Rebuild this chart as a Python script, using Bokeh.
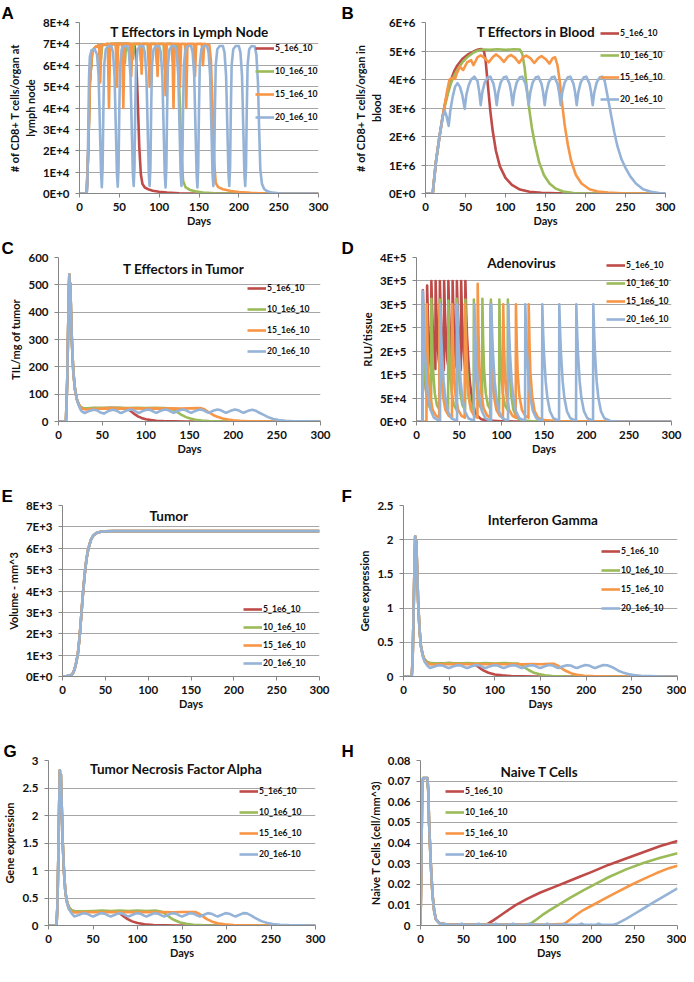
from bokeh.plotting import figure
from bokeh.models import Range1d, FixedTicker, Legend, LegendItem, Label
from bokeh.layouts import column, row
from bokeh.embed import file_html
from bokeh.resources import INLINE

# ---------------- shared axis data ----------------
X_TICKS = [0, 50, 100, 150, 200, 250, 300]
X_LABELS = ["0", "50", "100", "150", "200", "250", "300"]
NAMES = ["5_1e6_10", "10_1e6_10", "15_1e6_10", "20_1e6_10"]
NAMES_GH = ["5_1e6_10", "10_1e6_10", "15_1e6_10", "20_1e6-10"]

# ---------------- A: T effectors in lymph node ----------------
A_TICKS = [0, 10000, 20000, 30000, 40000, 50000, 60000, 70000, 80000]
A_LABELS = ["0E+0", "1E+4", "2E+4", "3E+4", "4E+4", "5E+4", "6E+4", "7E+4", "8E+4"]
A_RED_X = [0, 9, 11, 13, 16, 20, 30, 45, 60, 69, 71, 73, 75, 77, 79, 82, 86, 92, 100, 110, 125, 145, 300]
A_RED_Y = [0, 0, 20000, 52000, 66500, 68500, 69500, 70000, 70000, 69500, 64000, 45000, 22000, 9000, 4500,
           2800, 2000, 1300, 800, 450, 150, 0, 0]
A_GREEN_X = [0, 9, 11, 13, 16, 20, 25.5, 27, 28.5, 35.5, 37, 38.5, 45.5, 47, 48.5, 55.5, 57, 58.5,
             65.5, 67, 68.5, 75.5, 77, 78.5, 85.5, 87, 88.5, 95.5, 97, 98.5, 105.5, 107, 108.5,
             115.5, 117, 118.5, 122, 124, 126, 128, 130, 133, 138, 145, 155, 170, 190, 300]
A_GREEN_Y = [0, 0, 20000, 52000, 66500, 68500, 69500, 63000, 69500, 70000, 62000, 70000, 70000, 64000, 70000,
             70000, 61000, 70000, 70000, 63000, 70000, 70000, 62000, 70000, 70000, 60000, 70000,
             70000, 61000, 70000, 70000, 58000, 70000, 70000, 62000, 70000,
             69000, 62000, 42000, 18000, 6000, 3000, 1800, 1000, 500, 150, 0, 0]
A_ORANGE_X = [0, 9, 11, 13, 16, 20, 24.5, 26, 27.5, 35.5, 37, 38.5, 45.5, 47, 48.5, 53.5, 55, 56.5,
              63.5, 65, 66.5, 76.5, 78, 79.5, 86.5, 88, 89.5, 96.5, 98, 99.5, 106.5, 108, 109.5,
              116.5, 118, 119.5, 124.5, 126, 127.5, 132.5, 134, 135.5, 143.5, 145, 146.5, 153.5, 155, 156.5,
              163, 165, 167, 169, 171, 174, 180, 190, 200, 215, 235, 300]
A_ORANGE_Y = [0, 0, 20000, 52000, 66500, 68500, 69500, 52000, 69500, 70000, 40000, 70000, 70000, 50000, 70000,
              70000, 40000, 70000, 70000, 55000, 70000, 70000, 56000, 70000, 70000, 50000, 70000,
              70000, 55000, 70000, 70000, 46000, 70000, 70000, 40000, 70000, 70000, 50000, 70000,
              70000, 40000, 70000, 70000, 55000, 70000, 70000, 60000, 70000,
              69500, 62000, 40000, 15000, 5000, 3000, 2000, 1200, 700, 300, 0, 0]
A_BLUE_X = [0, 9, 10, 11, 12, 13, 15, 19, 22, 24, 25.5, 27, 28,
            29, 30, 31, 33, 36, 40, 42, 44, 45.5, 47, 48,
            49, 50, 51, 53, 56, 60, 62, 64, 65.5, 67, 68,
            69, 70, 71, 73, 76, 80, 82, 84, 85.5, 87, 88,
            89, 90, 91, 93, 96, 100, 102, 104, 105.5, 107, 108,
            109, 110, 111, 113, 116, 120, 122, 124, 125.5, 127, 128,
            129, 130, 131, 133, 136, 140, 142, 144, 145.5, 147, 148,
            149, 150, 151, 153, 156, 160, 162, 164, 165.5, 167, 168,
            169, 170, 171, 173, 176, 180, 182, 184, 185.5, 187, 188,
            189, 190, 191, 193, 196, 200, 202, 204, 205.5, 207, 208,
            209, 210, 211, 213, 216, 220, 222, 224, 225.5, 227, 229, 232, 236, 242, 250, 265, 300]
A_BLUE_Y = [0, 0, 5000, 30000, 55000, 64000, 67000, 67500, 65000, 55000, 33000, 10000, 3000,
            12000, 40000, 60000, 67500, 69000, 69000, 66000, 55000, 32000, 9000, 3200,
            12000, 40000, 60000, 67500, 69000, 69000, 66000, 55000, 32000, 9000, 3500,
            12000, 40000, 60000, 67500, 69000, 69000, 66000, 55000, 32000, 9000, 3500,
            12000, 40000, 60000, 67500, 69000, 69000, 66000, 55000, 32000, 9000, 2800,
            12000, 40000, 60000, 67500, 69000, 69000, 66000, 55000, 32000, 9000, 3500,
            12000, 40000, 60000, 67500, 69000, 69000, 66000, 55000, 32000, 9000, 2800,
            12000, 40000, 60000, 67500, 69000, 69000, 66000, 55000, 32000, 9000, 3500,
            12000, 40000, 60000, 67500, 69000, 69000, 66000, 55000, 32000, 9000, 3500,
            12000, 40000, 60000, 67500, 69000, 69000, 66000, 55000, 32000, 9000, 3500,
            12000, 40000, 60000, 67500, 69000, 68800, 65000, 52000, 30000, 11000, 4500, 2000, 1000, 400, 150, 0, 0]

# ---------------- B: T effectors in blood ----------------
B_TICKS = [0, 1e6, 2e6, 3e6, 4e6, 5e6, 6e6]
B_LABELS = ["0E+0", "1E+6", "2E+6", "3E+6", "4E+6", "5E+6", "6E+6"]
B_RED_X = [0, 9, 13, 17.5, 21.5, 24, 28, 32, 36, 40, 46, 53, 60, 66, 70, 73, 75, 77, 79, 81,
           84, 88, 93, 100, 108, 118, 130, 145, 165, 190, 300]
B_RED_Y = [0, 0, 1.1e6, 2.0e6, 2.7e6, 3.1e6, 3.6e6, 4.0e6, 4.3e6, 4.5e6, 4.72e6, 4.88e6, 4.98e6, 5.05e6,
           5.07e6, 5.0e6, 4.7e6, 4.1e6, 3.5e6, 2.9e6, 2.2e6, 1.5e6, 0.95e6, 0.55e6, 0.3e6, 0.14e6,
           0.06e6, 0.025e6, 0.008e6, 0, 0]
B_GREEN_X = [0, 9, 13, 17.5, 21.5, 24, 28, 32, 36, 40, 46, 53, 60, 66, 72, 80, 90, 100, 110, 118,
             121, 124, 127, 130, 133, 137, 142, 148, 155, 163, 172, 185, 200, 300]
B_GREEN_Y = [0, 0, 1.1e6, 2.0e6, 2.7e6, 3.05e6, 3.5e6, 3.88e6, 4.15e6, 4.35e6, 4.6e6, 4.8e6, 4.95e6,
             5.02e6, 5.05e6, 5.04e6, 5.06e6, 5.04e6, 5.06e6, 5.05e6, 4.9e6, 4.4e6, 3.6e6, 2.9e6, 2.3e6,
             1.7e6, 1.1e6, 0.65e6, 0.35e6, 0.17e6, 0.07e6, 0.02e6, 0, 0]
B_ORANGE_X = [0, 9, 13, 17.5, 21.5, 24, 27, 30, 33, 37, 39, 43, 47, 52, 57, 60, 65, 69, 74, 79,
              84, 88, 93, 98, 103, 107, 112, 117, 122, 126, 131, 136, 141, 145, 150, 155, 159, 162,
              165, 168, 171, 174, 178, 182, 188, 195, 205, 215, 228, 245, 265, 300]
B_ORANGE_Y = [0, 0, 1.1e6, 2.0e6, 2.7e6, 3.1e6, 3.6e6, 4.0e6, 4.05e6, 4.02e6, 4.2e6, 4.45e6, 4.33e6,
              4.6e6, 4.68e6, 4.5e6, 4.78e6, 4.85e6, 4.75e6, 4.6e6, 4.78e6, 4.88e6, 4.78e6, 4.62e6,
              4.8e6, 4.86e6, 4.76e6, 4.58e6, 4.78e6, 4.84e6, 4.75e6, 4.58e6, 4.75e6, 4.82e6, 4.72e6,
              4.56e6, 4.75e6, 4.78e6, 4.5e6, 3.9e6, 3.1e6, 2.4e6, 1.7e6, 1.15e6, 0.65e6, 0.35e6,
              0.15e6, 0.07e6, 0.03e6, 0.01e6, 0, 0]
B_BLUE_X = [0, 9, 13, 17.5, 21.5, 24, 26, 29, 31, 34, 37, 40, 43, 46, 49, 51, 54, 57, 61, 65, 67, 69,
            71, 74, 78, 81, 85, 87, 89,
            91, 94, 98, 101, 105, 107, 109,
            111, 114, 118, 121, 125, 127, 129,
            131, 134, 138, 141, 145, 147, 149,
            151, 154, 158, 161, 165, 167, 169,
            171, 174, 178, 181, 185, 187, 189,
            191, 194, 198, 201, 205, 207, 209,
            211, 214, 218, 221, 224, 227, 230, 233, 236, 240, 245, 250, 256, 263, 272, 282, 292, 300]
B_BLUE_Y = [0, 0, 1.1e6, 2.0e6, 2.7e6, 2.9e6, 2.75e6, 2.37e6, 2.9e6, 3.4e6, 3.75e6, 3.87e6, 3.75e6,
            3.45e6, 2.97e6, 3.45e6, 3.8e6, 4.0e6, 4.1e6, 3.95e6, 3.6e6, 3.1e6,
            3.55e6, 3.9e6, 4.08e6, 4.1e6, 3.85e6, 3.55e6, 3.1e6,
            3.55e6, 3.9e6, 4.08e6, 4.1e6, 3.85e6, 3.55e6, 3.1e6,
            3.55e6, 3.9e6, 4.08e6, 4.1e6, 3.85e6, 3.55e6, 3.1e6,
            3.55e6, 3.9e6, 4.08e6, 4.1e6, 3.85e6, 3.55e6, 3.1e6,
            3.55e6, 3.9e6, 4.08e6, 4.1e6, 3.85e6, 3.55e6, 3.1e6,
            3.55e6, 3.9e6, 4.08e6, 4.1e6, 3.85e6, 3.55e6, 3.1e6,
            3.55e6, 3.9e6, 4.08e6, 4.1e6, 3.85e6, 3.55e6, 3.1e6,
            3.55e6, 3.9e6, 4.08e6, 4.1e6, 3.95e6, 3.5e6, 3.05e6, 2.6e6, 2.15e6, 1.65e6, 1.2e6,
            0.9e6, 0.6e6, 0.35e6, 0.15e6, 0.06e6, 0.02e6, 0.01e6]

# ---------------- C: T effectors in tumor ----------------
C_TICKS = [0, 100, 200, 300, 400, 500, 600]
C_LABELS = ["0", "100", "200", "300", "400", "500", "600"]
C_RED_X = [0, 8.5, 10, 11, 12, 12.4, 12.9, 13.5, 14.5, 15.5, 17, 19, 21, 23, 25, 28, 32, 40, 50, 60,
           70, 75, 78, 81, 84, 88, 91, 95, 100, 106, 112, 120, 130, 145, 160, 300]
C_RED_Y = [0, 0, 150, 330, 500, 538, 455, 505, 380, 280, 180, 115, 82, 64, 54, 48, 47, 49, 48, 50,
           49, 48, 46, 42, 35, 25, 19, 13, 8, 5, 3, 1.5, 0.6, 0.1, 0, 0]
C_GREEN_X = [0, 8.5, 10, 11, 12, 12.4, 12.9, 13.5, 14.5, 15.5, 17, 19, 21, 23, 25, 28, 32, 40, 50, 60,
             70, 80, 90, 100, 110, 120, 125, 129, 133, 137, 141, 146, 151, 157, 164, 172, 182, 195, 300]
C_GREEN_Y = [0, 0, 150, 330, 500, 538, 455, 505, 380, 280, 180, 115, 82, 64, 54, 49, 48, 49, 50, 49,
             50, 49, 50, 49, 50, 49, 48, 46, 40, 32, 24, 16, 11, 6.5, 3.5, 1.5, 0.5, 0, 0]
C_ORANGE_X = [0, 8.5, 10, 11, 12, 12.4, 12.9, 13.5, 14.5, 15.5, 17, 19, 21, 23, 25, 28, 32, 40, 50, 60,
              70, 80, 90, 100, 110, 120, 130, 140, 150, 160, 164, 167, 172, 177, 182, 188, 194, 200,
              208, 218, 230, 245, 300]
C_ORANGE_Y = [0, 0, 150, 330, 500, 538, 455, 505, 380, 280, 180, 115, 82, 62, 52, 46, 44, 46, 47, 48,
              47, 48, 48, 47, 48, 47, 48, 47, 48, 49, 48, 45, 34, 24, 17, 11, 7, 4.5, 2.5, 1, 0.3, 0, 0]
C_BLUE_X = [0, 8.5, 10, 11, 12, 12.4, 12.9, 13.5, 14.5, 15.5, 17, 19, 21, 23, 25, 27, 30, 35, 40, 44,
            48, 52, 57, 62, 66, 70, 72, 77, 82, 86, 90, 92, 97, 102, 106, 110, 112, 117, 122, 126,
            130, 132, 137, 142, 146, 150, 152, 157, 162, 166, 170, 172, 177, 182, 186, 190, 192, 197,
            202, 206, 210, 212, 217, 222, 226, 230, 235, 240, 246, 252, 260, 270, 285, 300]
C_BLUE_Y = [0, 0, 150, 330, 500, 538, 455, 505, 380, 280, 180, 115, 80, 60, 45, 36, 31, 38, 43, 41,
            33, 29, 38, 43, 40, 33, 31, 39, 44, 41, 34, 31, 39, 44, 41, 34, 32, 39, 44, 41,
            34, 32, 39, 44, 41, 34, 32, 39, 44, 41, 34, 32, 39, 44, 41, 34, 32, 39,
            44, 41, 34, 32, 39, 43, 39, 32, 24, 16, 9, 5, 2.5, 1, 0.3, 0]

# ---------------- D: adenovirus ----------------
D_TICKS = [0, 50000, 100000, 150000, 200000, 250000, 300000, 350000]
D_LABELS = ["0E+0", "5E+4", "1E+5", "2E+5", "2E+5", "3E+5", "3E+5", "4E+5"]
D_RED_X = [0, 7.2, 7.5, 8.5, 9.5, 11, 12.2,
           12.5, 13.5, 14.5, 16, 17.2, 17.5, 18.5, 19.5, 21, 22.2, 22.5, 23.5, 24.5, 26, 27.2,
           27.5, 28.5, 29.5, 31, 32.2, 32.5, 33.5, 34.5, 36, 37.2, 37.5, 38.5, 39.5, 41, 42.2,
           42.5, 43.5, 44.5, 46, 47.2, 47.5, 48.5, 49.5, 51, 52.2, 52.5, 53.5, 54.5, 56, 57.2,
           57.5, 58.5, 59.5, 61, 63, 66, 70, 76, 85, 100, 115, 300]
D_RED_Y = [0, 0, 2.8e5, 1.7e5, 1.1e5, 0.7e5, 0.55e5,
           2.9e5, 2.2e5, 1.7e5, 1.3e5, 1.1e5, 3.0e5, 2.3e5, 1.8e5, 1.35e5, 1.12e5,
           3.0e5, 2.3e5, 1.8e5, 1.35e5, 1.15e5, 3.0e5, 2.3e5, 1.8e5, 1.35e5, 1.1e5,
           3.0e5, 2.3e5, 1.8e5, 1.35e5, 1.2e5, 3.0e5, 2.3e5, 1.8e5, 1.35e5, 1.1e5,
           3.0e5, 2.3e5, 1.8e5, 1.35e5, 1.15e5, 3.0e5, 2.3e5, 1.8e5, 1.35e5, 1.1e5,
           3.0e5, 2.3e5, 1.8e5, 1.35e5, 1.15e5,
           3.0e5, 2.3e5, 1.8e5, 1.3e5, 0.8e5, 0.4e5, 0.15e5, 0.05e5, 0.02e5, 0.005e5, 0, 0]
D_GREEN_X = [0, 7.2,
             7.5, 8.5, 9.5, 11.5, 14, 17.2, 17.5, 18.5, 19.5, 21.5, 24, 27.2,
             27.5, 28.5, 29.5, 31.5, 34, 37.2, 37.5, 38.5, 39.5, 41.5, 44, 47.2,
             47.5, 48.5, 49.5, 51.5, 54, 57.2, 57.5, 58.5, 59.5, 61.5, 64, 67.2,
             67.5, 68.5, 69.5, 71.5, 74, 77.2, 77.5, 78.5, 79.5, 81.5, 84, 87.2,
             87.5, 88.5, 89.5, 91.5, 94, 97.2, 97.5, 98.5, 99.5, 101.5, 104, 107.2,
             107.5, 108.5, 109.5, 111.5, 114, 118, 125, 135, 150, 300]
D_GREEN_Y = [0, 0,
             2.6e5, 1.65e5, 1.1e5, 0.6e5, 0.35e5, 0.25e5, 2.62e5, 1.65e5, 1.1e5, 0.6e5, 0.35e5, 0.25e5,
             2.6e5, 1.65e5, 1.1e5, 0.6e5, 0.35e5, 0.25e5, 2.58e5, 1.65e5, 1.1e5, 0.6e5, 0.35e5, 0.25e5,
             2.62e5, 1.65e5, 1.1e5, 0.6e5, 0.35e5, 0.25e5, 2.6e5, 1.65e5, 1.1e5, 0.6e5, 0.35e5, 0.25e5,
             2.6e5, 1.65e5, 1.1e5, 0.6e5, 0.35e5, 0.25e5, 2.62e5, 1.65e5, 1.1e5, 0.6e5, 0.35e5, 0.25e5,
             2.6e5, 1.65e5, 1.1e5, 0.6e5, 0.35e5, 0.25e5, 2.6e5, 1.65e5, 1.1e5, 0.6e5, 0.35e5, 0.25e5,
             2.6e5, 1.65e5, 1.1e5, 0.55e5, 0.25e5, 0.08e5, 0.02e5, 0.008e5, 0, 0]
D_ORANGE_X = [0, 11.7,
              12, 13, 14, 16, 19, 23, 26.7, 27, 28, 29, 31, 34, 38, 41.7,
              42, 43, 44, 46, 49, 53, 56.7, 57, 58, 59, 61, 64, 68, 71.7,
              72, 73, 74, 76, 79, 83, 86.7, 87, 88, 89, 91, 94, 98, 101.7,
              102, 103, 104, 106, 109, 113, 116.7, 117, 118, 119, 121, 124, 128, 131.7,
              132, 133, 134, 136, 139, 143, 150, 165, 190, 215, 300]
D_ORANGE_Y = [0, 0,
              2.5e5, 1.6e5, 1.05e5, 0.55e5, 0.25e5, 0.12e5, 0.08e5, 2.5e5, 1.6e5, 1.05e5, 0.55e5, 0.25e5, 0.12e5, 0.08e5,
              2.5e5, 1.6e5, 1.05e5, 0.55e5, 0.25e5, 0.12e5, 0.08e5, 2.5e5, 1.6e5, 1.05e5, 0.55e5, 0.25e5, 0.12e5, 0.08e5,
              2.94e5, 1.85e5, 1.2e5, 0.62e5, 0.28e5, 0.13e5, 0.08e5, 2.5e5, 1.6e5, 1.05e5, 0.55e5, 0.25e5, 0.12e5, 0.08e5,
              2.5e5, 1.6e5, 1.05e5, 0.55e5, 0.25e5, 0.12e5, 0.08e5, 2.5e5, 1.6e5, 1.05e5, 0.55e5, 0.25e5, 0.12e5, 0.08e5,
              2.5e5, 1.6e5, 1.05e5, 0.55e5, 0.22e5, 0.08e5, 0.03e5, 0.01e5, 0.005e5, 0.002e5, 0]
D_BLUE_X = [0, 7.2,
            7.5, 8.5, 9.5, 11.5, 13.5, 16.5, 20.5, 27.7,
            28, 29, 30, 32, 34, 37, 41, 47.7,
            48, 49, 50, 52, 54, 57, 61, 67.7,
            68, 69, 70, 72, 74, 77, 81, 87.7,
            88, 89, 90, 92, 94, 97, 101, 107.7,
            108, 109, 110, 112, 114, 117, 121, 127.7,
            128, 129, 130, 132, 134, 137, 141, 147.7,
            148, 149, 150, 152, 154, 157, 161, 167.7,
            168, 169, 170, 172, 174, 177, 181, 187.7,
            188, 189, 190, 192, 194, 197, 201, 207.7,
            208, 209, 210, 212, 214, 217, 221, 228, 240, 300]
D_BLUE_Y = [0, 0,
            2.78e5, 2.1e5, 1.6e5, 0.95e5, 0.55e5, 0.25e5, 0.08e5, 0.01e5,
            2.5e5, 1.9e5, 1.45e5, 0.85e5, 0.5e5, 0.22e5, 0.07e5, 0.01e5,
            2.5e5, 1.9e5, 1.45e5, 0.85e5, 0.5e5, 0.22e5, 0.07e5, 0.01e5,
            2.5e5, 1.9e5, 1.45e5, 0.85e5, 0.5e5, 0.22e5, 0.07e5, 0.01e5,
            2.5e5, 1.9e5, 1.45e5, 0.85e5, 0.5e5, 0.22e5, 0.07e5, 0.01e5,
            2.5e5, 1.9e5, 1.45e5, 0.85e5, 0.5e5, 0.22e5, 0.07e5, 0.01e5,
            2.5e5, 1.9e5, 1.45e5, 0.85e5, 0.5e5, 0.22e5, 0.07e5, 0.01e5,
            2.5e5, 1.9e5, 1.45e5, 0.85e5, 0.5e5, 0.22e5, 0.07e5, 0.01e5,
            2.5e5, 1.9e5, 1.45e5, 0.85e5, 0.5e5, 0.22e5, 0.07e5, 0.01e5,
            2.5e5, 1.9e5, 1.45e5, 0.85e5, 0.5e5, 0.22e5, 0.07e5, 0.01e5,
            2.5e5, 1.9e5, 1.45e5, 0.85e5, 0.5e5, 0.22e5, 0.07e5, 0.01e5, 0, 0]

# ---------------- E: tumor volume (identical for all four regimens) ----------------
E_TICKS = [0, 1000, 2000, 3000, 4000, 5000, 6000, 7000, 8000]
E_LABELS = ["0E+0", "1E+3", "2E+3", "3E+3", "4E+3", "5E+3", "6E+3", "7E+3", "8E+3"]
E_DAYS = [0, 5, 10, 12, 14, 16, 18, 20, 22, 24, 26, 28, 30, 33, 36, 40, 45, 50, 60, 300]
E_VOLUME = [15, 25, 60, 140, 330, 650, 1080, 1850, 2900, 3950, 4800, 5500, 5950, 6380, 6600, 6720,
            6770, 6790, 6800, 6800]

# ---------------- F: interferon gamma ----------------
F_TICKS = [0, 0.5, 1, 1.5, 2, 2.5]
F_LABELS = ["0", "0.5", "1", "1.5", "2", "2.5"]
F_RED_X = [0, 9, 10, 11, 12, 12.8, 13.4, 14, 15, 16, 17.5, 19, 21, 23, 26, 30, 40, 50, 60, 70,
           76, 80, 84, 88, 93, 100, 108, 118, 130, 145, 300]
F_RED_Y = [0, 0, 0.25, 0.9, 1.6, 2.05, 1.75, 1.98, 1.55, 1.1, 0.7, 0.45, 0.32, 0.25, 0.21, 0.19, 0.19,
           0.195, 0.19, 0.19, 0.185, 0.16, 0.12, 0.085, 0.055, 0.03, 0.016, 0.007, 0.002, 0, 0]
F_GREEN_X = [0, 9, 10, 11, 12, 12.8, 13.4, 14, 15, 16, 17.5, 19, 21, 23, 26, 30, 40, 50, 60, 70,
             80, 90, 100, 110, 120, 125, 129, 133, 137, 142, 148, 155, 163, 175, 190, 300]
F_GREEN_Y = [0, 0, 0.25, 0.9, 1.6, 2.05, 1.75, 1.98, 1.55, 1.1, 0.7, 0.45, 0.32, 0.25, 0.21, 0.195,
             0.19, 0.195, 0.19, 0.195, 0.19, 0.195, 0.19, 0.195, 0.19, 0.19, 0.17, 0.13, 0.095, 0.06,
             0.035, 0.018, 0.008, 0.002, 0, 0]
F_ORANGE_X = [0, 9, 10, 11, 12, 12.8, 13.4, 14, 15, 16, 17.5, 19, 21, 23, 26, 30, 40, 50, 60, 70,
              80, 90, 100, 110, 120, 130, 140, 150, 160, 165, 169, 173, 178, 184, 190, 198, 208, 222, 240, 300]
F_ORANGE_Y = [0, 0, 0.25, 0.9, 1.6, 2.05, 1.75, 1.98, 1.55, 1.1, 0.7, 0.45, 0.31, 0.23, 0.19, 0.175,
              0.178, 0.18, 0.182, 0.18, 0.182, 0.18, 0.182, 0.18, 0.182, 0.18, 0.182, 0.18, 0.185,
              0.185, 0.16, 0.12, 0.08, 0.045, 0.025, 0.012, 0.005, 0.001, 0, 0]
F_BLUE_X = [0, 9, 10, 11, 12, 12.8, 13.4, 14, 15, 16, 17.5, 19, 21, 23, 26,
            29, 34, 39, 43, 48, 50, 54, 59, 63, 68, 70, 74, 79, 83, 88, 90, 94, 99, 103, 108,
            110, 114, 119, 123, 128, 130, 134, 139, 143, 148, 150, 154, 159, 163, 168,
            170, 174, 179, 183, 188, 190, 194, 199, 203, 208, 210, 214, 219, 223, 228,
            232, 236, 240, 246, 252, 260, 270, 285, 300]
F_BLUE_Y = [0, 0, 0.25, 0.9, 1.6, 2.05, 1.75, 1.98, 1.55, 1.1, 0.7, 0.45, 0.3, 0.22, 0.16,
            0.125, 0.145, 0.165, 0.16, 0.13, 0.125, 0.145, 0.165, 0.16, 0.13, 0.125, 0.145, 0.168, 0.162, 0.13,
            0.125, 0.145, 0.165, 0.16, 0.13, 0.125, 0.145, 0.165, 0.16, 0.13, 0.125, 0.145, 0.165, 0.16, 0.13,
            0.125, 0.145, 0.168, 0.162, 0.13, 0.125, 0.145, 0.165, 0.16, 0.13, 0.125, 0.145, 0.168, 0.162, 0.13,
            0.125, 0.145, 0.168, 0.165, 0.14,
            0.11, 0.08, 0.06, 0.035, 0.02, 0.01, 0.005, 0.001, 0]

# ---------------- G: tumor necrosis factor alpha ----------------
G_TICKS = [0, 0.5, 1, 1.5, 2, 2.5, 3]
G_LABELS = ["0", "0.5", "1", "1.5", "2", "2.5", "3"]
G_RED_X = [0, 9, 10, 11, 12, 12.8, 13.3, 13.9, 15, 16, 17.5, 19, 21, 23, 26, 30, 40, 50, 60, 70,
           77, 81, 85, 89, 94, 100, 108, 118, 130, 145, 300]
G_RED_Y = [0, 0, 0.35, 1.2, 2.2, 2.82, 2.3, 2.75, 2.1, 1.5, 0.95, 0.6, 0.42, 0.33, 0.27, 0.25, 0.25,
           0.26, 0.26, 0.26, 0.25, 0.21, 0.16, 0.115, 0.075, 0.045, 0.022, 0.009, 0.003, 0, 0]
G_GREEN_X = [0, 9, 10, 11, 12, 12.8, 13.3, 13.9, 15, 16, 17.5, 19, 21, 23, 26, 30, 40, 50, 60, 70,
             80, 90, 100, 110, 120, 125, 129, 133, 137, 142, 148, 155, 163, 175, 190, 300]
G_GREEN_Y = [0, 0, 0.35, 1.2, 2.2, 2.82, 2.3, 2.75, 2.1, 1.5, 0.95, 0.6, 0.42, 0.33, 0.28, 0.26, 0.26,
             0.265, 0.27, 0.265, 0.27, 0.265, 0.27, 0.265, 0.27, 0.26, 0.235, 0.19, 0.14, 0.095, 0.055,
             0.03, 0.013, 0.004, 0, 0]
G_ORANGE_X = [0, 9, 10, 11, 12, 12.8, 13.3, 13.9, 15, 16, 17.5, 19, 21, 23, 26, 30, 40, 50, 60, 70,
              80, 90, 100, 110, 120, 130, 140, 150, 160, 165, 169, 173, 178, 184, 190, 198, 208, 222, 240, 300]
G_ORANGE_Y = [0, 0, 0.35, 1.2, 2.2, 2.82, 2.3, 2.75, 2.1, 1.5, 0.95, 0.6, 0.4, 0.3, 0.25, 0.235, 0.24,
              0.245, 0.24, 0.245, 0.24, 0.245, 0.24, 0.245, 0.24, 0.245, 0.24, 0.245, 0.245, 0.245,
              0.215, 0.17, 0.115, 0.07, 0.04, 0.02, 0.008, 0.002, 0, 0]
G_BLUE_X = [0, 9, 10, 11, 12, 12.8, 13.3, 13.9, 15, 16, 17.5, 19, 21, 23, 26,
            29, 34, 39, 43, 48, 50, 54, 59, 63, 68, 70, 74, 79, 83, 88, 90, 94, 99, 103, 108,
            110, 114, 119, 123, 128, 130, 134, 139, 143, 148, 150, 154, 159, 163, 168,
            170, 174, 179, 183, 188, 190, 194, 199, 203, 208, 210, 214, 219, 223, 228,
            232, 236, 240, 246, 252, 260, 270, 285, 300]
G_BLUE_Y = [0, 0, 0.35, 1.2, 2.2, 2.82, 2.3, 2.75, 2.1, 1.5, 0.95, 0.6, 0.4, 0.3, 0.22,
            0.165, 0.19, 0.225, 0.215, 0.175, 0.165, 0.19, 0.225, 0.215, 0.175, 0.165, 0.19, 0.225, 0.215, 0.175,
            0.165, 0.19, 0.225, 0.215, 0.175, 0.165, 0.19, 0.225, 0.215, 0.175, 0.165, 0.19, 0.225, 0.215, 0.175,
            0.165, 0.19, 0.225, 0.215, 0.175, 0.165, 0.19, 0.225, 0.215, 0.175, 0.165, 0.19, 0.225, 0.215, 0.175,
            0.165, 0.19, 0.225, 0.22, 0.18,
            0.14, 0.105, 0.075, 0.045, 0.027, 0.014, 0.007, 0.002, 0]

# ---------------- H: naive T cells ----------------
H_TICKS = [0, 0.01, 0.02, 0.03, 0.04, 0.05, 0.06, 0.07, 0.08]
H_LABELS = ["0", "0.01", "0.02", "0.03", "0.04", "0.05", "0.06", "0.07", "0.08"]
H_RED_X = [0, 1, 2, 3, 8, 9, 10, 12, 14, 16, 18, 22, 30, 50, 70, 78, 85, 92, 100, 111,
           125, 140, 155, 170, 185, 200, 220, 240, 260, 280, 300]
H_RED_Y = [0, 0.03, 0.068, 0.0715, 0.0715, 0.066, 0.05, 0.03, 0.015, 0.007, 0.003, 0.0012, 0.0005,
           0.0005, 0.0005, 0.0007, 0.0025, 0.0045, 0.0068, 0.0099, 0.013, 0.016, 0.0185, 0.021,
           0.0235, 0.026, 0.0295, 0.0325, 0.0355, 0.0385, 0.041]
H_GREEN_X = [0, 1, 2, 3, 8, 9, 10, 12, 14, 16, 18, 22, 30, 60, 90, 120, 128, 135, 142, 150,
             162, 175, 190, 205, 220, 240, 260, 280, 300]
H_GREEN_Y = [0, 0.03, 0.068, 0.0715, 0.0715, 0.066, 0.05, 0.03, 0.015, 0.007, 0.003, 0.0012, 0.0005,
             0.0005, 0.0005, 0.0005, 0.0008, 0.0028, 0.005, 0.0072, 0.0102, 0.0135, 0.017, 0.0203,
             0.0235, 0.0272, 0.0303, 0.0328, 0.035]
H_ORANGE_X = [0, 1, 2, 3, 8, 9, 10, 12, 14, 16, 18, 22, 30, 60, 90, 120, 150, 168, 175, 182,
              190, 203, 215, 230, 245, 260, 275, 290, 300]
H_ORANGE_Y = [0, 0.03, 0.068, 0.0715, 0.0715, 0.066, 0.05, 0.03, 0.015, 0.007, 0.003, 0.0012, 0.0005,
              0.0005, 0.0005, 0.0005, 0.0005, 0.0008, 0.003, 0.0052, 0.0075, 0.0103, 0.013, 0.0163,
              0.0195, 0.0225, 0.0253, 0.0278, 0.029]
H_BLUE_X = [0, 1, 2, 3, 8, 9, 10, 12, 14, 16, 18, 22, 26, 28, 31,
            45, 48, 51, 65, 68, 71, 85, 88, 91, 105, 108, 111, 125, 128, 131,
            145, 148, 151, 165, 168, 171, 185, 188, 191, 205, 208, 211,
            225, 230, 240, 250, 260, 270, 280, 290, 300]
H_BLUE_Y = [0, 0.03, 0.068, 0.0715, 0.0715, 0.066, 0.05, 0.03, 0.015, 0.007, 0.003, 0.0012, 0.0005,
            0.0009, 0.0004, 0.0004, 0.0009, 0.0004, 0.0004, 0.0009, 0.0004, 0.0004, 0.0009, 0.0004,
            0.0004, 0.0009, 0.0004, 0.0004, 0.0009, 0.0004, 0.0004, 0.0009, 0.0004, 0.0004, 0.0009,
            0.0004, 0.0004, 0.0009, 0.0004, 0.0004, 0.0009, 0.0004,
            0.0004, 0.001, 0.0032, 0.0057, 0.0082, 0.0107, 0.0132, 0.0156, 0.018]

# ---------------- styling ----------------
FONT = "Lato"
COLORS = ["#BE4B48", "#9BBB59", "#F79646", "#95B3D7"]
GRID = "#A6A6A6"
AXIS = "#868686"


def panel(size, borders, ytop, yticks, ylabels, ylabel, title, title_xy, letter,
          series, names, legend_x, legend_top, pitch):
    width, height = size
    l, r, t, b = borders
    fh = height - t - b
    p = figure(width=width, height=height, x_range=Range1d(0, 300), y_range=Range1d(0, ytop),
               output_backend="svg", toolbar_location=None,
               min_border_left=l, min_border_right=r, min_border_top=t, min_border_bottom=b)
    p.outline_line_color = None
    p.background_fill_color = "white"
    p.border_fill_color = "white"
    p.xgrid.grid_line_color = None
    yt = FixedTicker(ticks=yticks)
    p.yaxis.ticker = yt
    p.ygrid.ticker = yt
    p.ygrid.grid_line_color = GRID
    p.ygrid.grid_line_width = 1
    p.xaxis.ticker = FixedTicker(ticks=X_TICKS)
    p.xaxis.major_label_overrides = dict(zip(X_TICKS, X_LABELS))
    p.yaxis.major_label_overrides = dict(zip(yticks, ylabels))
    for ax in (p.xaxis[0], p.yaxis[0]):
        ax.axis_line_color = AXIS
        ax.major_tick_line_color = AXIS
        ax.major_tick_out = 4
        ax.major_tick_in = 0
        ax.minor_tick_line_color = None
        ax.major_label_text_font = FONT
        ax.major_label_text_font_size = "11.5px"
        ax.major_label_text_font_style = "bold"
        ax.major_label_text_color = "#111111"
        ax.axis_label_text_font = FONT
        ax.axis_label_text_font_size = "11px"
        ax.axis_label_text_font_style = "bold"
        ax.axis_label_text_color = "#111111"
    p.xaxis.axis_label = "Days"
    p.xaxis.major_label_standoff = 5
    p.xaxis.axis_label_standoff = 0
    p.yaxis.axis_label = ylabel
    p.yaxis.major_label_standoff = 6
    p.yaxis.axis_label_standoff = 3

    rends = []
    for (xs, ys), c in zip(series, COLORS):
        rends.append(p.line(xs, ys, line_color=c, line_width=2.6, line_join="round"))

    gh = 12
    sp = pitch - gh
    lh = 4 * gh + 3 * sp
    leg = Legend(items=[LegendItem(label=n, renderers=[rr]) for n, rr in zip(names, rends)],
                 location=(legend_x, fh - legend_top - lh), orientation="vertical",
                 glyph_width=19, glyph_height=gh, label_height=gh, label_standoff=1, spacing=sp,
                 padding=0, margin=0, border_line_alpha=0, background_fill_alpha=0,
                 label_text_font=FONT, label_text_font_size="8.6px", label_text_font_style="bold",
                 label_text_color="#111111")
    p.add_layout(leg)

    p.add_layout(Label(x=title_xy[0], y=title_xy[1], text=title, text_align="center",
                       text_baseline="middle", text_font=FONT, text_font_size="13.5px",
                       text_font_style="bold", text_color="#111111"))

    # panel letter drawn as the figure title, shifted left over the axis area
    p.title.text = letter[0]
    p.title.align = "left"
    p.title.offset = letter[1] - l
    p.title.standoff = 0
    p.title.text_font = "Liberation Sans"
    p.title.text_font_size = "17px"
    p.title.text_font_style = "bold"
    p.title.text_color = "#000000"
    return p


pA = panel((339, 232), (79, 21, 22, 39), 80000, A_TICKS, A_LABELS,
           "# of CD8+ T cells/organ at\nlymph node", "T Effectors in Lymph Node", (138, 75400),
           ("A", 1), [(A_RED_X, A_RED_Y), (A_GREEN_X, A_GREEN_Y), (A_ORANGE_X, A_ORANGE_Y),
                      (A_BLUE_X, A_BLUE_Y)], NAMES, 176, 20, 23)
pB = panel((347, 232), (86, 21, 20, 39), 6e6, B_TICKS, B_LABELS,
           "# of CD8+ T cells/organ in\nblood", "T Effectors in Blood", (138, 5.68e6),
           ("B", 2), [(B_RED_X, B_RED_Y), (B_GREEN_X, B_GREEN_Y), (B_ORANGE_X, B_ORANGE_Y),
                      (B_BLUE_X, B_BLUE_Y)], NAMES, 175, 7, 22)
pC = panel((339, 252), (58, 19, 22, 63), 600, C_TICKS, C_LABELS,
           "TIL/mg of tumor", "T Effectors in Tumor", (143.5, 558),
           ("C", 1), [(C_RED_X, C_RED_Y), (C_GREEN_X, C_GREEN_Y), (C_ORANGE_X, C_ORANGE_Y),
                      (C_BLUE_X, C_BLUE_Y)], NAMES, 189, 28, 21)
pD = panel((347, 252), (77, 15, 25, 59), 350000, D_TICKS, D_LABELS,
           "RLU/tissue", "Adenovirus", (123.5, 3.39e5),
           ("D", 2), [(D_RED_X, D_RED_Y), (D_GREEN_X, D_GREEN_Y), (D_ORANGE_X, D_ORANGE_Y),
                      (D_BLUE_X, D_BLUE_Y)], NAMES, 190, 6, 18)
pE = panel((339, 248), (62, 20, 19, 56), 8000, E_TICKS, E_LABELS,
           "Volume - mm^3", "Tumor", (124, 7530),
           ("E", 1), [(E_DAYS, E_VOLUME), (E_DAYS, E_VOLUME), (E_DAYS, E_VOLUME),
                      (E_DAYS, E_VOLUME)], NAMES, 181, 100, 18)
pF = panel((347, 248), (64, 9, 21, 55), 2.5, F_TICKS, F_LABELS,
           "Gene expression", "Interferon Gamma", (152.6, 2.29),
           ("F", 2), [(F_RED_X, F_RED_Y), (F_GREEN_X, F_GREEN_Y), (F_ORANGE_X, F_ORANGE_Y),
                      (F_BLUE_X, F_BLUE_Y)], NAMES, 198, 41, 19)
pG = panel((339, 234), (46, 24, 25, 41), 3, G_TICKS, G_LABELS,
           "Gene expression", "Tumor Necrosis Factor Alpha", (143.8, 2.84),
           ("G", 1), [(G_RED_X, G_RED_Y), (G_GREEN_X, G_GREEN_Y), (G_ORANGE_X, G_ORANGE_Y),
                      (G_BLUE_X, G_BLUE_Y)], NAMES_GH, 191, 28, 21)
pH = panel((347, 234), (81, 9, 28, 36), 0.08, H_TICKS, H_LABELS,
           "Naive T Cells (cell/mm^3)", "Naive T Cells", (138.9, 0.0742),
           ("H", 2), [(H_RED_X, H_RED_Y), (H_GREEN_X, H_GREEN_Y), (H_ORANGE_X, H_ORANGE_Y),
                      (H_BLUE_X, H_BLUE_Y)], NAMES_GH, 25, 30, 21)

layout = column(row(pA, pB), row(pC, pD), row(pE, pF), row(pG, pH))
open("out.html", "w").write(file_html(layout, INLINE))
